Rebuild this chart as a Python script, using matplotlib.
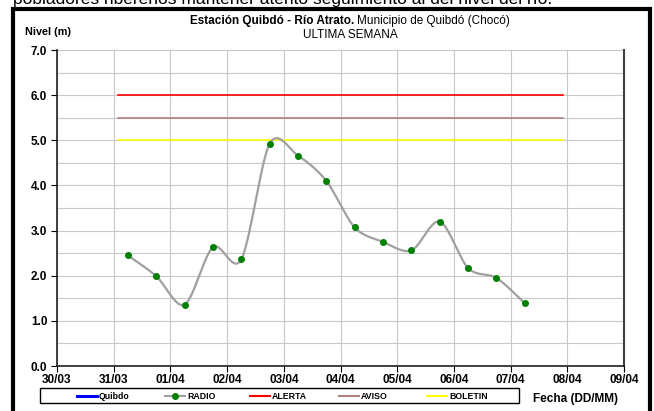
import matplotlib
matplotlib.use("Agg")
import matplotlib.pyplot as plt
import matplotlib.dates as mdates
from matplotlib.lines import Line2D
from matplotlib.patches import Rectangle
import numpy as np
import pandas as pd

plt.rcParams['font.family'] = ['Liberation Sans', 'DejaVu Sans']

# ---- data ----
radio_times = ['2019-03-31 06:00', '2019-03-31 18:00', '2019-04-01 06:00', '2019-04-01 18:00',
               '2019-04-02 06:00', '2019-04-02 18:00', '2019-04-03 06:00', '2019-04-03 18:00',
               '2019-04-04 06:00', '2019-04-04 18:00', '2019-04-05 06:00', '2019-04-05 18:00',
               '2019-04-06 06:00', '2019-04-06 18:00', '2019-04-07 06:00']
radio_values = [2.45, 1.99, 1.36, 2.63, 2.36, 4.92, 4.66, 4.10, 3.07, 2.75, 2.56, 3.20, 2.17, 1.95, 1.39]

ref_times = ['2019-03-31 02:00', '2019-04-07 22:00']
alerta = [6.0, 6.0]
aviso = [5.5, 5.5]
boletin = [5.0, 5.0]

x_start, x_end = '2019-03-30', '2019-04-09'
y_min, y_max = 0.0, 7.0

title_bold = 'Estación Quibdó - Río Atrato.'
title_normal = 'Municipio de Quibdó (Chocó)'
subtitle = 'ULTIMA SEMANA'
top_text = 'pobladores ribereños mantener atento seguimiento al del nivel del río.'
legend_names = ['Quibdo', 'RADIO', 'ALERTA', 'AVISO', 'BOLETIN']

# ---- figure ----
W, H = 654, 411
fig = plt.figure(figsize=(W / 100, H / 100), dpi=100)
fig.patch.set_facecolor('white')

def fx(px):
    return px / W

def fy(py):
    return 1 - py / H

ax = fig.add_axes([fx(57), fy(366), fx(624) - fx(57), fy(50) - fy(366)])

xr = mdates.date2num(pd.to_datetime(radio_times))
yr = np.array(radio_values)

# Excel-like smoothed line (cubic Bezier, Catmull-Rom style control points)
def smooth(x, y, n=30, k=1 / 6.5):
    px, py = [], []
    N = len(x)
    for i in range(N - 1):
        x0, y0 = x[i], y[i]
        x3, y3 = x[i + 1], y[i + 1]
        xm, ym = (x[i - 1], y[i - 1]) if i > 0 else (x0, y0)
        xp, yp = (x[i + 2], y[i + 2]) if i + 2 < N else (x3, y3)
        x1, y1 = x0 + (x3 - xm) * k, y0 + (y3 - ym) * k
        x2, y2 = x3 - (xp - x0) * k, y3 - (yp - y0) * k
        t = np.linspace(0, 1, n)
        bx = (1 - t) ** 3 * x0 + 3 * (1 - t) ** 2 * t * x1 + 3 * (1 - t) * t ** 2 * x2 + t ** 3 * x3
        by = (1 - t) ** 3 * y0 + 3 * (1 - t) ** 2 * t * y1 + 3 * (1 - t) * t ** 2 * y2 + t ** 3 * y3
        px.extend(bx)
        py.extend(by)
    return np.array(px), np.array(py)

xref = mdates.date2num(pd.to_datetime(ref_times))
l_quibdo, = ax.plot([], [], color='#0000FF', lw=2.2)
l_alerta, = ax.plot(xref, alerta, color='#FF0000', lw=1.2, zorder=3)
l_aviso, = ax.plot(xref, aviso, color='#B08080', lw=1.2, zorder=3)
l_bol, = ax.plot(xref, boletin, color='#FFFF00', lw=1.2, zorder=3)

sx, sy = smooth(xr, yr)
l_radio, = ax.plot(sx, sy, color='#A0A0A0', lw=1.6, zorder=4, solid_capstyle='round')
ax.plot(xr, yr, linestyle='none', marker='o', ms=4, color='#008000', zorder=5)

ax.set_xlim(mdates.date2num(pd.Timestamp(x_start)), mdates.date2num(pd.Timestamp(x_end)))
ax.set_ylim(y_min, y_max)
ax.xaxis.set_major_locator(mdates.DayLocator())
ax.xaxis.set_major_formatter(mdates.DateFormatter('%d/%m'))
ax.set_yticks(np.arange(0, 7.01, 1.0))
ax.set_yticks(np.arange(0, 7.01, 0.5), minor=True)
ax.yaxis.set_major_formatter(matplotlib.ticker.FormatStrFormatter('%.1f'))
ax.grid(True, which='both', color='#C8C8C8', lw=0.8)
ax.set_axisbelow(True)
ax.tick_params(axis='both', which='major', direction='out', length=4, width=0.8,
               labelsize=8.5, pad=2)
ax.tick_params(axis='y', which='minor', length=0)
ax.tick_params(axis='y', which='major', pad=3)
for lab in ax.get_xticklabels() + ax.get_yticklabels():
    lab.set_fontweight('bold')
ax.spines['top'].set_visible(False)
ax.spines['left'].set_color('#202020')
ax.spines['left'].set_linewidth(1.2)
ax.spines['bottom'].set_color('#202020')
ax.spines['bottom'].set_linewidth(1.2)
ax.spines['right'].set_color('#404040')
ax.spines['right'].set_linewidth(1.5)

# ---- texts ----
fig.text(fx(354), fy(21), title_bold, ha='right', va='center', fontsize=8.5, fontweight='bold')
fig.text(fx(357), fy(21), title_normal, ha='left', va='center', fontsize=8.5)
fig.text(fx(350), fy(35), subtitle, ha='center', va='center', fontsize=8.5)
fig.text(fx(25), fy(32), 'Nivel (m)', ha='left', va='center', fontsize=7.8, fontweight='bold')
fig.text(fx(533), fy(399), 'Fecha (DD/MM)', ha='left', va='center', fontsize=8.5, fontweight='bold')
fig.text(fx(13), fy(4), top_text, ha='left', va='baseline', fontsize=12.5)

# ---- legend (manual) ----
fig.add_artist(Rectangle((fx(40), fy(403)), fx(519) - fx(40), fy(388) - fy(403),
                         transform=fig.transFigure, fill=False, edgecolor='black', lw=1.0))
leg_lines = [l_quibdo, l_radio, l_alerta, l_aviso, l_bol]
leg_x = [77, 165, 250, 339, 427]
ly = fy(396)
for name, ln, x0 in zip(legend_names, leg_lines, leg_x):
    lw = 2.2 if name == 'Quibdo' else 1.5
    fig.add_artist(Line2D([fx(x0), fx(x0 + 20)], [ly, ly], transform=fig.transFigure,
                          color=ln.get_color(), lw=lw))
    if name == 'RADIO':
        fig.add_artist(Line2D([fx(x0 + 10)], [ly], transform=fig.transFigure, marker='o',
                              ms=4, color='#008000', linestyle='none'))
    fig.text(fx(x0 + 22), ly, name, ha='left', va='center', fontsize=6.3, fontweight='bold')

# ---- outer border ----
fig.add_artist(Rectangle((fx(13), -0.1), fx(649.5) - fx(13), fy(9) + 0.1,
                         transform=fig.transFigure, fill=False, edgecolor='black', lw=3, clip_on=False))

fig.savefig('out.png', dpi=100)
